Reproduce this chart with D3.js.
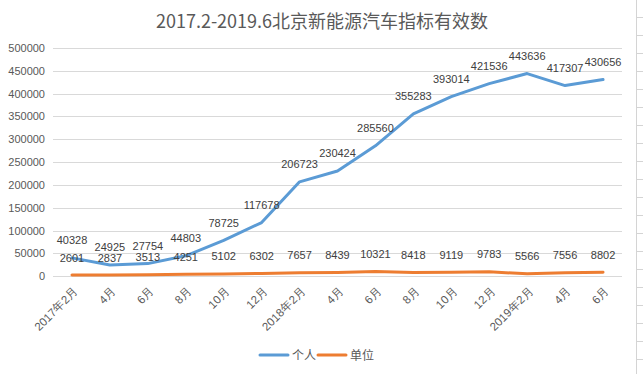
<!DOCTYPE html>
<html><head><meta charset="utf-8">
<script src="https://cdn.jsdelivr.net/npm/d3@7/dist/d3.min.js"></script>
<style>
body{margin:0;background:#fff;}
svg{display:block;font-family:"Noto Sans CJK SC","Liberation Sans",sans-serif;}
</style></head><body>
<script>
const categories = ["2017年2月","4月","6月","8月","10月","12月","2018年2月","4月","6月","8月","10月","12月","2019年2月","4月","6月"];
const personal = [40328,24925,27754,44803,78725,117678,206723,230424,285560,355283,393014,421536,443636,417307,430656];
const unit = [2601,2837,3513,4251,5102,6302,7657,8439,10321,8418,9119,9783,5566,7556,8802];
const yTicks = [0,50000,100000,150000,200000,250000,300000,350000,400000,450000,500000];
const seriesNames = ["个人","单位"];
const colors = ["#5B9BD5","#ED7D31"];
const title = "2017.2-2019.6北京新能源汽车指标有效数";

const W=643,H=374;
const svg=d3.select("body").append("svg").attr("width",W).attr("height",H);
const x=d3.scaleBand().domain(d3.range(categories.length)).range([53,622]);
const y=d3.scaleLinear().domain([0,500000]).range([276.3,47.8]);
const cx=i=>x(i)+x.bandwidth()/2;

// spreadsheet edge decoration
svg.append("line").attr("x1",636.5).attr("x2",636.5).attr("y1",0).attr("y2",H).attr("stroke","#D4D4D4");
d3.range(20).forEach(i=>{
  svg.append("line").attr("x1",637).attr("x2",643).attr("y1",17.5+18*i).attr("y2",17.5+18*i).attr("stroke","#D4D4D4");
});

// title
svg.append("text").attr("x",322).attr("y",28).attr("text-anchor","middle")
  .attr("font-size",18).attr("fill","#595959").text(title);

// grid
svg.append("g").selectAll("line").data(yTicks).join("line")
  .attr("x1",53).attr("x2",622).attr("y1",d=>Math.round(y(d))+0.5).attr("y2",d=>Math.round(y(d))+0.5)
  .attr("stroke","#D9D9D9").attr("stroke-width",1);

// y axis labels
const yAxis=d3.axisLeft(y).tickValues(yTicks).tickSize(0).tickPadding(0).tickFormat(d=>d);
const gy=svg.append("g").attr("transform","translate(45,0)").call(yAxis);
gy.select(".domain").remove();
gy.selectAll("text").attr("font-size",11).attr("fill","#595959").attr("font-family","Liberation Sans,sans-serif");

// x axis labels
const xAxis=d3.axisBottom(x).tickSize(0).tickFormat(i=>categories[i]);
const gx=svg.append("g").attr("transform","translate(0,282)").call(xAxis);
gx.select(".domain").remove();
gx.selectAll("text").attr("font-size",11.5).attr("fill","#595959")
  .attr("text-anchor","end").attr("dy","0.35em")
  .attr("transform","translate(4,7) rotate(-45)").attr("y",0).attr("x",0);

// lines
const line=d3.line().x((d,i)=>cx(i)).y(d=>y(d));
[personal,unit].forEach((s,k)=>{
  svg.append("path").datum(s).attr("d",line).attr("fill","none")
    .attr("stroke",colors[k]).attr("stroke-width",3).attr("stroke-linejoin","round").attr("stroke-linecap","round");
});

// data labels
[personal,unit].forEach((s,k)=>{
  svg.append("g").selectAll("text").data(s).join("text")
    .attr("x",(d,i)=>cx(i)).attr("y",d=>y(d)-13.5)
    .attr("text-anchor","middle").attr("font-size",11).attr("fill","#404040")
    .attr("font-family","Liberation Sans,sans-serif").text(d=>d);
});

// legend
const lg=svg.append("g");
const legendItems=[{x:260,tx:292},{x:318,tx:350}];
seriesNames.forEach((n,k)=>{
  lg.append("line").attr("x1",legendItems[k].x).attr("x2",legendItems[k].x+28).attr("y1",355).attr("y2",355)
    .attr("stroke",colors[k]).attr("stroke-width",3).attr("stroke-linecap","round");
  lg.append("text").attr("x",legendItems[k].tx).attr("y",359.5).attr("font-size",12).attr("fill","#595959").text(n);
});
</script></body></html>
